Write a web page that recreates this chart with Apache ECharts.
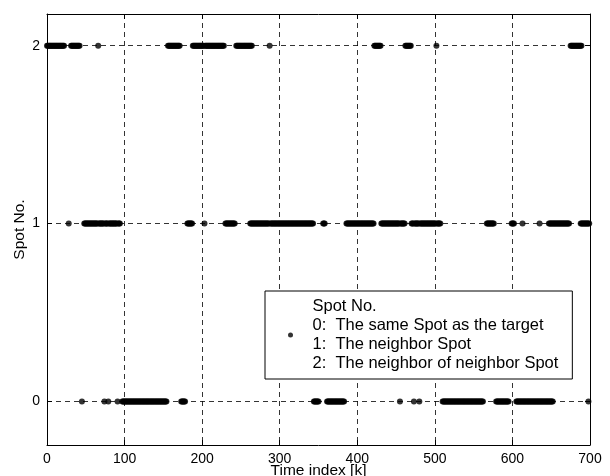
<!DOCTYPE html>
<html>
<head>
<meta charset="utf-8">
<script src="https://cdn.jsdelivr.net/npm/echarts@6/dist/echarts.min.js"></script>
<style>
  html, body { margin: 0; padding: 0; background: #ffffff; }
  #chart { width: 610px; height: 476px; }
</style>
</head>
<body>
<div id="chart"></div>
<script>
// Tick labels
const xTicks = [0, 100, 200, 300, 400, 500, 600, 700];
const yTicks = [0, 1, 2];

// Runs of consecutive time indices [first, last] during which each spot was selected
const spot0Runs = [[45, 45], [74, 74], [79, 79], [91, 91], [97, 154], [173, 178], [344, 350],
  [361, 383], [455, 455], [473, 473], [480, 480], [510, 562], [579, 595], [605, 652], [698, 698]];
const spot1Runs = [[28, 28], [48, 65], [67, 73], [75, 78], [80, 90], [92, 94], [181, 187],
  [203, 203], [230, 242], [262, 286], [288, 343], [356, 358], [386, 421], [431, 454],
  [456, 461], [470, 472], [474, 479], [481, 501], [503, 507], [567, 576], [599, 602],
  [613, 613], [635, 635], [647, 673], [688, 699]];
const spot2Runs = [[0, 22], [31, 42], [66, 66], [156, 171], [188, 202], [204, 228], [244, 264],
  [287, 287], [422, 430], [462, 469], [502, 502], [675, 689]];

const legendLines = [
  'Spot No.',
  '0:  The same Spot as the target',
  '1:  The neighbor Spot',
  '2:  The neighbor of neighbor Spot'
];
const seriesName = legendLines.join('\n');

// One point per time index inside each run
function runsToPoints(runs, spot) {
  const pts = [];
  runs.forEach(([a, b]) => { for (let k = a; k <= b; k++) pts.push([k, spot]); });
  return pts;
}
const points = []
  .concat(runsToPoints(spot0Runs, 0), runsToPoints(spot1Runs, 1), runsToPoints(spot2Runs, 2))
  .sort((p, q) => p[0] - q[0]);

const FONT = 'Liberation Sans, Arial, Helvetica, sans-serif';
const Y_MIN = -0.2445, Y_MAX = 2.178;
const dash = { color: '#000', width: 0.8, type: [5, 4] };
const boxLine = { show: true, onZero: false, lineStyle: { color: '#000', width: 1 } };
const inTick = { show: true, inside: true, length: 5, lineStyle: { color: '#000' } };

const chart = echarts.init(document.getElementById('chart'), null, { renderer: 'canvas' });
chart.setOption({
  animation: false,
  backgroundColor: '#ffffff',
  grid: { left: 47, right: 20, top: 14, bottom: 31, containLabel: false, outerBoundsMode: 'none' },
  xAxis: [{
    type: 'value', min: 0, max: 700, interval: 100,
    name: 'Time index [k]', nameLocation: 'middle', nameGap: 18, nameMoveOverlap: false,
    nameTextStyle: { color: '#000', fontSize: 15.5, fontFamily: FONT },
    axisLine: boxLine,
    axisTick: inTick,
    axisLabel: { color: '#000', fontSize: 14, fontFamily: FONT, margin: 7,
      formatter: v => (xTicks.indexOf(v) >= 0 ? String(v) : '') },
    splitLine: { show: true, lineStyle: dash }
  }, {
    type: 'value', position: 'top', min: 0, max: 700, interval: 100,
    axisLine: boxLine,
    axisTick: inTick,
    axisLabel: { show: false }, splitLine: { show: false }
  }],
  yAxis: [{
    type: 'value', min: Y_MIN, max: Y_MAX,
    name: 'Spot No.', nameLocation: 'middle', nameGap: 19, nameRotate: 90, nameMoveOverlap: false,
    nameTextStyle: { color: '#000', fontSize: 15.5, fontFamily: FONT },
    axisLine: boxLine,
    axisTick: Object.assign({ customValues: yTicks }, inTick),
    axisLabel: { color: '#000', fontSize: 14, fontFamily: FONT, margin: 7, customValues: yTicks },
    splitLine: { show: true, lineStyle: dash }
  }, {
    type: 'value', position: 'right', min: Y_MIN, max: Y_MAX,
    axisLine: boxLine,
    axisTick: Object.assign({ customValues: yTicks }, inTick),
    axisLabel: { show: false }, splitLine: { show: false }
  }],
  legend: {
    data: [{ name: seriesName, icon: 'circle' }],
    left: 265, top: 291,
    itemWidth: 34, itemHeight: 5,
    padding: [6, 14, 6, 23],
    borderColor: '#000', borderWidth: 1, borderRadius: 0,
    backgroundColor: '#fff',
    selectedMode: false,
    textStyle: { color: '#000', fontSize: 16.5, lineHeight: 19, fontFamily: FONT }
  },
  series: [{
    name: seriesName,
    type: 'scatter',
    xAxisIndex: 0, yAxisIndex: 0,
    symbol: 'circle', symbolSize: 6,
    itemStyle: { color: '#000' },
    data: points,
    z: 3
  }]
});
</script>
</body>
</html>
